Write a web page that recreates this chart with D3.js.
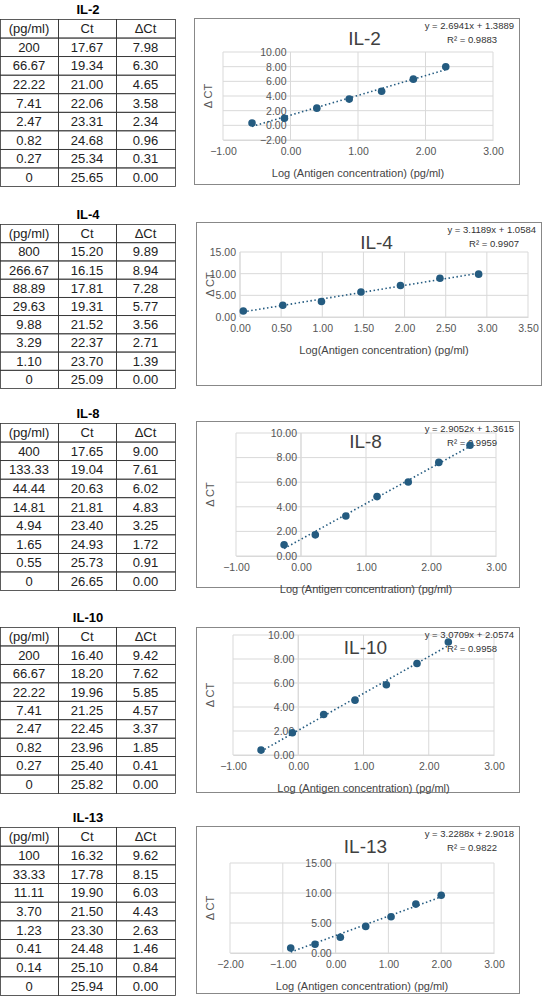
<!DOCTYPE html><html><head><meta charset="utf-8">
<script src="https://cdn.jsdelivr.net/npm/d3@7/dist/d3.min.js"></script>
<style>body{margin:0;background:#fff}text{font-family:"Liberation Sans",Arial,sans-serif}</style></head><body>
<svg id="s" width="549" height="1000"></svg>
<script>
const names=["IL-2","IL-4","IL-8","IL-10","IL-13"];
const conc=[["200","66.67","22.22","7.41","2.47","0.82","0.27","0"],["800","266.67","88.89","29.63","9.88","3.29","1.10","0"],["400","133.33","44.44","14.81","4.94","1.65","0.55","0"],["200","66.67","22.22","7.41","2.47","0.82","0.27","0"],["100","33.33","11.11","3.70","1.23","0.41","0.14","0"]];
const ct=[["17.67","19.34","21.00","22.06","23.31","24.68","25.34","25.65"],["15.20","16.15","17.81","19.31","21.52","22.37","23.70","25.09"],["17.65","19.04","20.63","21.81","23.40","24.93","25.73","26.65"],["16.40","18.20","19.96","21.25","22.45","23.96","25.40","25.82"],["16.32","17.78","19.90","21.50","23.30","24.48","25.10","25.94"]];
const dct=[["7.98","6.30","4.65","3.58","2.34","0.96","0.31","0.00"],["9.89","8.94","7.28","5.77","3.56","2.71","1.39","0.00"],["9.00","7.61","6.02","4.83","3.25","1.72","0.91","0.00"],["9.42","7.62","5.85","4.57","3.37","1.85","0.41","0.00"],["9.62","8.15","6.03","4.43","2.63","1.46","0.84","0.00"]];
const logx=[[2.30,1.82,1.35,0.87,0.39,-0.09,-0.57],[2.90,2.43,1.95,1.47,0.99,0.52,0.04],[2.60,2.12,1.65,1.17,0.69,0.22,-0.26],[2.30,1.82,1.35,0.87,0.39,-0.09,-0.57],[2.00,1.52,1.05,0.57,0.09,-0.39,-0.85]];
const slope=[2.6941,3.1189,2.9052,3.0709,3.2288];
const icpt=[1.3889,1.0584,1.3615,2.0574,2.9018];
const r2=["0.9883","0.9907","0.9959","0.9958","0.9822"];
const xDom=[[-1,3],[0,3.5],[-1,3],[-1,3],[-2,3]];
const yDom=[[-2,10],[0,15],[0,10],[0,10],[0,15]];
const xTicks=[[-1,0,1,2,3],[0,0.5,1,1.5,2,2.5,3,3.5],[-1,0,1,2,3],[-1,0,1,2,3],[-2,-1,0,1,2,3]];
const yTicks=[[-2,0,2,4,6,8,10],[0,5,10,15],[0,2,4,6,8,10],[0,2,4,6,8,10],[0,5,10,15]];
const header=["(pg/ml)","Ct","\u0394Ct"];
// layout
const L=[
 {top:0,box:[194,18,519,184],px:[223,493],py:[52,140]},
 {top:205,box:[196,222,541,385],px:[240,528],py:[252,317]},
 {top:404,box:[196,421,519,587],px:[236,496],py:[433,556]},
 {top:608,box:[196,627,519,792],px:[233,494],py:[635,755]},
 {top:808,box:[196,826,519,993],px:[230,494],py:[863,953]}];
const svg=d3.select("#s");const C="#245b80";
names.forEach((nm,i)=>{
 const l=L[i],g=svg.append("g");
 const t0=l.top+19,rh=(l.box[3]-l.box[1]+1)/9;
 g.append("text").attr("x",88).attr("y",l.top+14).attr("text-anchor","middle").attr("font-weight","bold").attr("font-size",13).text(nm);
 const cols=[0,58,116,175];
 const rows=[header].concat(conc[i].map((c,k)=>[c,ct[i][k],dct[i][k]]));
 rows.forEach((r,k)=>{r.forEach((v,j)=>{
   g.append("rect").attr("x",cols[j]+0.5).attr("y",t0+k*rh+0.5).attr("width",cols[j+1]-cols[j]).attr("height",rh).attr("fill","none").attr("stroke","#333").attr("stroke-width",0.8);
   g.append("text").attr("x",(cols[j]+cols[j+1])/2).attr("y",t0+k*rh+rh/2+5).attr("text-anchor","middle").attr("font-size",13).attr("fill","#222").text(v);});});
 const b=l.box;
 g.append("rect").attr("x",b[0]+.5).attr("y",b[1]+.5).attr("width",b[2]-b[0]).attr("height",b[3]-b[1]).attr("fill","#fff").attr("stroke","#888");
 const x=d3.scaleLinear().domain(xDom[i]).range(l.px),y=d3.scaleLinear().domain(yDom[i]).range([l.py[1],l.py[0]]);
 xTicks[i].forEach(v=>g.append("line").attr("x1",x(v)).attr("x2",x(v)).attr("y1",l.py[0]).attr("y2",l.py[1]).attr("stroke","#d9d9d9"));
 yTicks[i].forEach(v=>g.append("line").attr("x1",l.px[0]).attr("x2",l.px[1]).attr("y1",y(v)).attr("y2",y(v)).attr("stroke","#d9d9d9"));
 const x0=Math.max(xDom[i][0],0);
 g.append("line").attr("x1",x(x0)).attr("x2",x(x0)).attr("y1",l.py[0]).attr("y2",l.py[1]).attr("stroke","#d9d9d9");
 g.append("g").attr("transform",`translate(0,${l.py[1]})`).call(d3.axisBottom(x).tickValues(xTicks[i]).tickFormat(d3.format(".2f")).tickSize(0).tickPadding(8))
  .call(a=>{a.select(".domain").attr("stroke","#d9d9d9");a.selectAll("text").attr("font-size",10.5).attr("fill","#555");});
 g.append("g").attr("transform",`translate(${x(x0)},0)`).call(d3.axisLeft(y).tickValues(yTicks[i]).tickFormat(d3.format(".2f")).tickSize(0).tickPadding(4))
  .call(a=>{a.select(".domain").remove();a.selectAll("text").attr("font-size",10.5).attr("fill","#555");});
 g.append("text").attr("transform",`translate(${b[0]+18},${(l.py[0]+l.py[1])/2}) rotate(-90)`).attr("text-anchor","middle").attr("font-size",11).attr("fill","#555").text("\u0394 CT");
 g.append("text").attr("x",(l.px[0]+l.px[1])/2).attr("y",l.py[1]+37).attr("text-anchor","middle").attr("font-size",11).attr("fill","#444").text(i==1?"Log(Antigen concentration) (pg/ml)":"Log (Antigen concentration) (pg/ml)");
 g.append("text").attr("x",(b[0]+b[2])/2+8).attr("y",b[1]+27).attr("text-anchor","middle").attr("font-size",19).attr("fill","#404040").text(nm);
 g.append("text").attr("x",b[2]-5).attr("y",b[1]+11).attr("text-anchor","end").attr("font-size",9.5).attr("fill","#333").text(`y = ${slope[i]}x + ${icpt[i]}`);
 g.append("text").attr("x",b[2]-22).attr("y",b[1]+25).attr("text-anchor","end").attr("font-size",9.5).attr("fill","#333").text(`R² = ${r2[i]}`);
 const pts=logx[i].map((v,k)=>[v,+dct[i][k]]);
 const ex=d3.extent(logx[i]);
 g.append("line").attr("x1",x(ex[0])).attr("x2",x(ex[1])).attr("y1",y(slope[i]*ex[0]+icpt[i])).attr("y2",y(slope[i]*ex[1]+icpt[i])).attr("stroke",C).attr("stroke-width",1.6).attr("stroke-dasharray","1.5,2.5");
 g.selectAll("circle.p").data(pts).join("circle").attr("cx",d=>x(d[0])).attr("cy",d=>y(d[1])).attr("r",3.8).attr("fill",C);
});
</script></body></html>
